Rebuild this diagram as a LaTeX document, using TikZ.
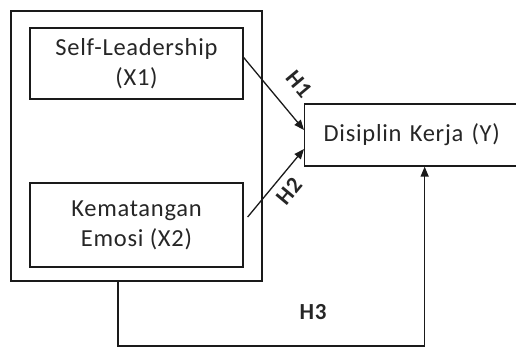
\documentclass[tikz,border=0pt]{standalone}
\usepackage{fontspec}
\setmainfont{Carlito}[LetterSpace=3]
\usetikzlibrary{arrows.meta}
\definecolor{linec}{HTML}{1A1A1A}
\definecolor{txtc}{HTML}{262626}

\begin{document}
\begin{tikzpicture}[
  x=1pt, y=-1pt,
  >=Stealth,
  box/.style={draw=linec, line width=1.3pt, align=center, text=txtc, inner sep=0pt,
              font=\fontsize{24.5}{30}\selectfont},
  path/.style={-{Triangle[length=10pt, width=8pt]}, line width=1.3pt, draw=linec},
  hyp/.style={font=\fontsize{23}{26}\selectfont\bfseries, text=txtc, inner sep=1pt}]
\useasboundingbox (0,0) rectangle (516,347);
\node[box, minimum width=251pt, minimum height=270pt] (outer) at (136.5,146) {};
\node[box, minimum width=213pt, minimum height=71pt]  (X1) at (136.5,63.5) {Self-Leadership\\(X1)};
\node[box, minimum width=213pt, minimum height=84pt]  (X2) at (136.5,225) {Kematangan\\Emosi (X2)};
\node[box, anchor=west, text width=212pt, align=left, inner xsep=19pt, minimum height=62pt]
  (Y) at (304,135) {Disiplin Kerja (Y)};
\coordinate (low) at (118,346);
\draw[path] ([yshift=6pt]X1.east) -- ([yshift=5pt]Y.west);
\draw[path] ([xshift=4pt,yshift=8pt]X2.east) -- ([yshift=-14pt]Y.west);
\draw[path] (outer.south -| low) -- (low) -| ([xshift=-5pt]Y.south);
\node[hyp, rotate=-50] (h1) at (299,84)  {H1};
\node[hyp, rotate=50]  (h2) at (289,191) {H2};
\node[hyp]             (h3) at (313,312) {H3};
\end{tikzpicture}
\end{document}
